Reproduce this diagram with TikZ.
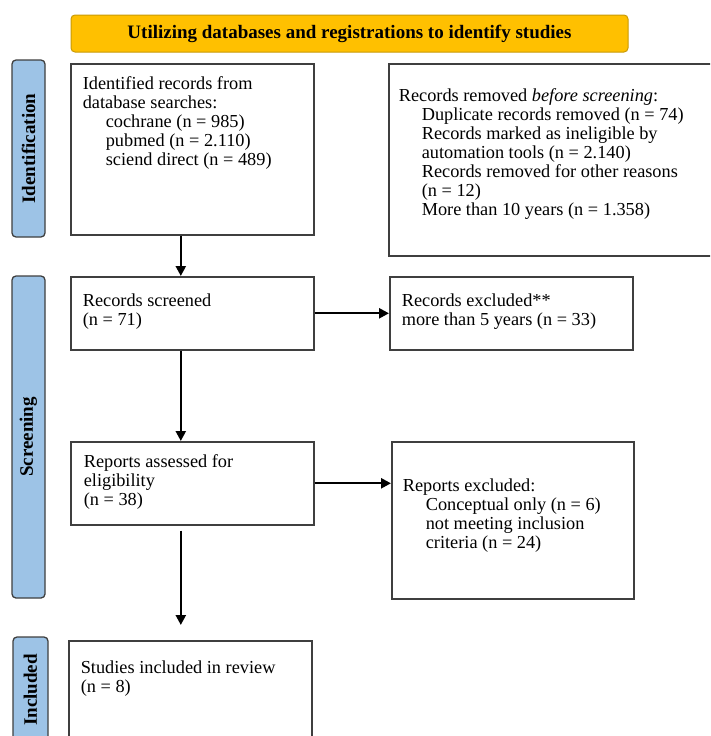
\documentclass[tikz,border=0pt]{standalone}
\usepackage{fontspec}
\setmainfont{Liberation Serif}
\usetikzlibrary{arrows.meta}
\usetikzlibrary{calc}

\definecolor{bannerorange}{HTML}{FFC000}
\definecolor{bannerline}{HTML}{C99A06}
\definecolor{stageblue}{HTML}{9DC3E6}
\definecolor{boxline}{HTML}{3F3F3F}

% width, height, first baseline, left pad, text
\newcommand{\flowtext}[5]{\parbox[t][#2][t]{#1}{\raggedright\leftskip=#4\relax\rule{0pt}{#3}#5}}
\newcommand{\ind}{\hspace*{23pt}}

\tikzset{
    flowbox/.style={draw=boxline, line width=1.6pt, anchor=north west, inner sep=0pt,
        font=\fontsize{18.3}{19}\selectfont},
    stage/.style={draw=boxline, line width=1.3pt, fill=stageblue, rounded corners=4pt,
        rotate=90, inner sep=0pt, minimum height=33pt, font=\bfseries\fontsize{19}{19}\selectfont},
    banner/.style={draw=bannerline, line width=1pt, fill=bannerorange, rounded corners=4pt,
        inner sep=0pt, minimum width=557pt, minimum height=37pt, font=\bfseries\fontsize{19}{19}\selectfont},
    flowarrow/.style={-{Triangle[length=10pt,width=10pt]}, line width=2.3pt}
}

\begin{document}
\begin{tikzpicture}[x=1pt, y=-1pt]
            \path[use as bounding box, clip] (0,0) rectangle (710,736);
            \fill[white] (0,0) rectangle (710,736);

            \node[banner] (title) at (349.5,33.5) {Utilizing databases and registrations to identify studies};

            \node[stage, minimum width=177pt] (lblident) at (28.5,148.5) {Identification};
            \node[stage, minimum width=322pt] (lblscreen) at (28.5,437) {Screening};
            \node[stage, minimum width=106pt, minimum height=35pt] (lblincl) at (30.5,690) {Included};

            \node[flowbox] (ident) at (70,63) {\flowtext{243pt}{171pt}{26pt}{12pt}{Identified records from\\
                database searches:\\
                \ind cochrane (n = 985)\\
                \ind pubmed (n = 2.110)\\
                \ind sciend direct (n = 489)}};
            \node[flowbox] (removed) at (388,63) {\flowtext{332pt}{192pt}{38pt}{10pt}{Records removed \textit{before screening}:\\
                \ind Duplicate records removed (n = 74)\\
                \ind Records marked as ineligible by\\
                \ind automation tools (n = 2.140)\\
                \ind Records removed for other reasons\\
                \ind (n = 12)\\
                \ind More than 10 years (n = 1.358)}};

            \node[flowbox] (screened) at (70,276) {\flowtext{243pt}{73pt}{30pt}{12pt}{Records screened\\
                (n = 71)}};
            \node[flowbox] (excluded) at (389,276) {\flowtext{243pt}{73pt}{30pt}{12pt}{Records excluded**\\
                more than 5 years (n = 33)}};

            \node[flowbox] (assessed) at (70,441) {\flowtext{243pt}{83pt}{26pt}{13pt}{Reports assessed for\\
                eligibility\\
                (n = 38)}};
            \node[flowbox] (repexcl) at (391,441) {\flowtext{242pt}{157pt}{50pt}{11pt}{Reports excluded:\\
                \ind Conceptual only (n = 6)\\
                \ind not meeting inclusion\\
                \ind criteria (n = 24)}};

            \node[flowbox] (studies) at (68,640) {\flowtext{243pt}{140pt}{33pt}{12pt}{Studies included in review\\
                (n = 8)}};

            \draw[flowarrow] ([xshift=-11.5pt]ident.south) -- ([xshift=-11.5pt]screened.north);
            \draw[flowarrow] (screened.east) -- (excluded.west);
            \draw[flowarrow] ([xshift=-11.5pt]screened.south) -- ([xshift=-11.5pt]assessed.north);
            \draw[flowarrow] (assessed.east) -- (assessed.east -| repexcl.west);
            \draw[flowarrow] ([xshift=-11.5pt,yshift=-5pt]assessed.south) -- ([xshift=-9.5pt,yshift=15pt]studies.north);
        \end{tikzpicture}
\end{document}
